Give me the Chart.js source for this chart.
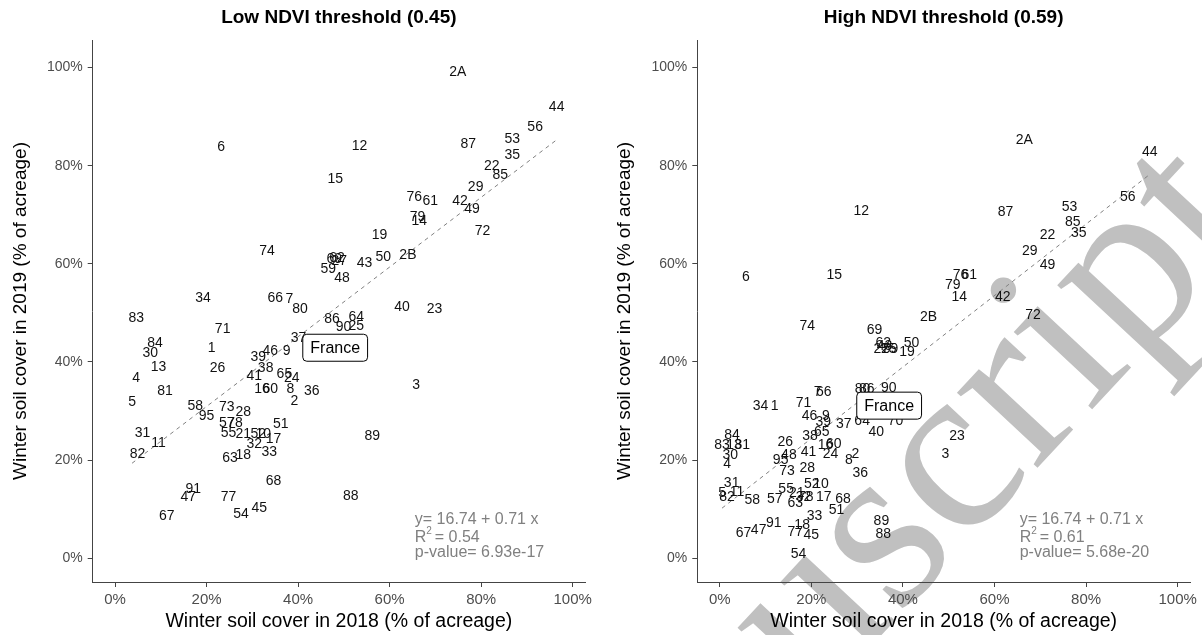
<!DOCTYPE html>
<html>
<head>
<meta charset="utf-8">
<script src="https://cdn.jsdelivr.net/npm/chart.js@4.4.0/dist/chart.umd.min.js"></script>
<style>
body{margin:0;background:#fff;width:1202px;height:635px;overflow:hidden;position:relative}
.panel{position:absolute;top:0;width:601px;height:635px}
#wm{position:absolute;left:369px;top:890px;transform-origin:0 0;transform:rotate(-47deg);
  font-family:"Liberation Serif","DejaVu Serif",serif;font-size:240px;line-height:1;color:#c0c0c0;white-space:nowrap}
</style>
</head>
<body>
<div id="wm">Manuscript</div>
<div class="panel" style="left:0"><canvas id="low" width="601" height="635"></canvas></div>
<div class="panel" style="left:601px"><canvas id="high" width="601" height="635"></canvas></div>
<script>
// departements
var depts = ['1','2','3','4','5','6','7','8','9','10','11','12','13','14','15','16','17','18','19',
  '21','22','23','24','25','26','27','28','29','2A','2B','30','31','32','33','34','35','36','37','38','39',
  '40','41','42','43','44','45','46','47','48','49','50','51','52','53','54','55','56','57','58','59',
  '60','61','62','63','64','65','66','67','68','69','70','71','72','73','74','76','77','78','79','80',
  '81','82','83','84','85','86','87','88','89','90','91','95'];

// low NDVI threshold (0.45), % of acreage
var lowX = [21.1,39.2,65.8,4.6,3.7,23.2,38.1,38.3,37.5,32.4,9.5,53.4,9.5,66.5,48.1,32.1,34.6,28.0,57.8,
  28.0,82.3,69.8,38.6,52.7,22.4,49.0,28.0,78.8,74.9,64.0,7.7,6.0,30.4,33.7,19.2,86.8,43.0,40.1,32.9,31.3,
  62.7,30.4,75.4,54.5,96.5,31.5,33.9,16.0,49.6,78.0,58.6,36.2,31.3,86.8,27.5,24.8,91.8,24.4,17.5,46.6,
  33.9,68.9,48.5,25.1,52.7,37.0,35.0,11.3,34.6,47.9,52.0,23.5,80.3,24.4,33.2,65.4,24.8,26.2,66.1,40.4,
  10.9,4.9,4.6,8.7,84.2,47.4,77.2,51.5,56.2,49.9,17.1,20.0];
var lowY = [42.8,32.1,35.3,36.7,31.9,83.7,52.7,34.4,42.3,25.3,23.5,84.0,38.9,68.6,77.2,34.5,24.2,21.0,65.8,
  25.3,79.8,50.8,36.8,47.3,38.7,60.5,29.7,75.7,99.1,61.8,41.9,25.5,23.2,21.7,53.0,82.1,34.1,44.8,38.7,40.9,
  51.2,37.2,72.8,60.2,91.9,10.2,42.3,12.5,57.1,71.1,61.4,27.4,25.3,85.3,9.0,25.5,87.9,27.5,30.9,58.9,
  34.5,72.8,61.2,20.4,49.1,37.5,53.0,8.5,15.7,60.9,43.0,46.6,66.7,30.8,62.6,73.6,12.5,27.5,69.5,50.8,
  34.1,21.2,48.9,43.8,78.1,48.7,84.4,12.7,24.8,47.0,14.1,29.0];

// high NDVI threshold (0.59)
var highX = [12.0,29.6,49.3,1.6,0.5,5.7,21.4,28.2,23.2,22.1,3.8,30.9,3.1,52.3,25.0,23.1,22.7,18.0,40.9,
  16.8,71.6,51.8,24.2,36.9,14.3,35.3,19.1,67.7,66.5,45.6,2.3,2.6,18.3,20.7,8.9,78.4,30.7,27.1,19.7,22.6,
  34.2,19.4,61.8,36.0,93.9,20.0,19.6,8.5,15.1,71.6,41.9,25.5,20.1,76.4,17.2,14.5,89.1,12.0,7.1,37.3,
  24.9,54.5,35.7,16.5,31.1,22.3,22.7,5.2,26.9,33.8,38.4,18.3,68.4,14.7,19.1,52.6,16.5,18.8,50.9,31.2,
  4.9,1.6,0.5,2.7,77.1,32.1,62.4,35.7,35.3,36.9,11.8,13.3];
var highY = [30.9,21.2,21.2,19.2,13.2,57.2,33.9,19.9,29.0,15.1,13.4,70.8,23.1,53.2,57.6,23.1,12.5,6.8,42.0,
  13.3,65.8,24.8,21.2,42.6,23.7,42.6,18.3,62.6,85.2,49.1,21.0,15.3,12.5,8.6,31.0,66.3,17.4,27.4,24.8,27.8,
  25.7,21.7,53.3,43.2,82.7,4.7,29.0,5.8,21.0,59.7,43.9,9.8,15.1,71.5,0.9,14.1,73.6,12.0,11.9,42.6,
  23.3,57.6,43.9,11.3,28.0,25.8,33.9,5.2,12.0,46.4,28.0,31.7,49.6,17.8,47.2,57.7,5.4,12.5,55.7,34.5,
  23.1,12.4,23.1,25.0,68.4,34.5,70.6,4.9,7.5,34.6,7.1,19.9];

// fitted lines [intercept, slope] and France average point
var lowFit = [16.74, 0.71];
var highFit = [9.85, 0.728];
var lowFrance = [48.1, 42.9];
var highFrance = [37.0, 31.1];
var lowStats = ['y= 16.74 + 0.71 x', '0.54', '6.93e-17'];
var highStats = ['y= 16.74 + 0.71 x', '0.61', '5.68e-20'];

var tickVals = [0, 20, 40, 60, 80, 100];
var xTitle = 'Winter soil cover in 2018 (% of acreage)';
var yTitle = 'Winter soil cover in 2019 (% of acreage)';

Chart.defaults.font.family = '"Liberation Sans", Arial, sans-serif';

var textPlugin = {
  id: 'texts',
  afterDatasetsDraw: function(chart) {
    var ctx = chart.ctx, o = chart.options.extra;
    var xs = chart.scales.x, ys = chart.scales.y;
    var meta = chart.getDatasetMeta(0);
    ctx.save();
    ctx.font = '14px "Liberation Sans", Arial, sans-serif';
    ctx.fillStyle = '#111';
    ctx.textAlign = 'center';
    ctx.textBaseline = 'middle';
    meta.data.forEach(function(p, i) {
      ctx.fillText(depts[i], p.x, p.y);
    });
    // France box
    var fx = xs.getPixelForValue(o.france[0]), fy = ys.getPixelForValue(o.france[1]);
    ctx.font = '16px "Liberation Sans", Arial, sans-serif';
    var w = ctx.measureText('France').width + 15, h = 27;
    ctx.beginPath();
    ctx.roundRect(fx - w / 2, fy - h / 2, w, h, 4);
    ctx.fillStyle = '#fff';
    ctx.fill();
    ctx.strokeStyle = '#000';
    ctx.lineWidth = 1;
    ctx.stroke();
    ctx.fillStyle = '#000';
    ctx.fillText('France', fx, fy + 1);
    ctx.restore();
  },
  afterDraw: function(chart) {
    var ctx = chart.ctx, o = chart.options.extra, a = chart.chartArea;
    var xs = chart.scales.x, ys = chart.scales.y;
    ctx.save();
    ctx.fillStyle = '#000';
    ctx.font = 'bold 19px "Liberation Sans", Arial, sans-serif';
    ctx.textAlign = 'center';
    ctx.textBaseline = 'middle';
    ctx.fillText(o.title, (a.left + a.right) / 2, 18);
    // regression stats
    var sx = xs.getPixelForValue(65.5);
    ctx.font = '16px "Liberation Sans", Arial, sans-serif';
    ctx.fillStyle = '#808080';
    ctx.textAlign = 'left';
    ctx.fillText(o.stats[0], sx, ys.getPixelForValue(7.9));
    var y2 = ys.getPixelForValue(4.2);
    ctx.fillText('R', sx, y2);
    var rw = ctx.measureText('R').width;
    ctx.font = '10px "Liberation Sans", Arial, sans-serif';
    ctx.fillText('2', sx + rw, y2 - 6);
    ctx.font = '16px "Liberation Sans", Arial, sans-serif';
    ctx.fillText(' = ' + o.stats[1], sx + rw + 4, y2);
    ctx.fillText('p-value= ' + o.stats[2], sx, ys.getPixelForValue(1.1));
    ctx.restore();
  }
};

function makePanel(id, title, xs, ys, fit, france, stats, yWidth, yTitlePad, padRight) {
  var pts = xs.map(function(x, i) { return {x: x, y: ys[i]}; });
  var x0 = Math.min.apply(null, xs), x1 = Math.max.apply(null, xs);
  var line = [{x: x0, y: fit[0] + fit[1] * x0}, {x: x1, y: fit[0] + fit[1] * x1}];
  var axisCol = '#444';
  new Chart(document.getElementById(id), {
    type: 'scatter',
    data: {
      datasets: [
        {data: pts, pointRadius: 0, pointHoverRadius: 0},
        {type: 'line', data: line, borderColor: '#808080', borderWidth: 1, borderDash: [4, 4],
         pointRadius: 0, fill: false}
      ]
    },
    options: {
      responsive: false,
      animation: false,
      events: [],
      extra: {title: title, france: france, stats: stats},
      layout: {padding: {top: 40, right: padRight, left: 0, bottom: 0}},
      plugins: {legend: {display: false}, tooltip: {enabled: false}},
      scales: {
        x: {
          type: 'linear', min: -4.9, max: 102.7,
          afterBuildTicks: function(s) { s.ticks = tickVals.map(function(v) { return {value: v}; }); },
          afterFit: function(s) { s.height = 53; s.paddingLeft = 0; s.paddingRight = 0; },
          ticks: {callback: function(v) { return v + '%'; }, color: '#4d4d4d', font: {size: 15},
                  padding: 4, maxRotation: 0, autoSkip: false},
          grid: {drawOnChartArea: false, tickLength: 5, color: axisCol},
          border: {color: axisCol},
          title: {display: true, text: xTitle, color: '#000', font: {size: 19.5}, padding: {top: 0, bottom: 2}}
        },
        y: {
          type: 'linear', min: -4.83, max: 105.6,
          afterBuildTicks: function(s) { s.ticks = tickVals.map(function(v) { return {value: v}; }); },
          afterFit: function(s) { s.width = yWidth; s.paddingTop = 0; s.paddingBottom = 0; },
          ticks: {callback: function(v) { return v + '%'; }, color: '#4d4d4d', font: {size: 14},
                  padding: 5, autoSkip: false},
          grid: {drawOnChartArea: false, tickLength: 5, color: axisCol},
          border: {color: axisCol},
          title: {display: true, text: yTitle, color: '#000', font: {size: 19}, padding: {top: yTitlePad, bottom: 0}}
        }
      }
    },
    plugins: [textPlugin]
  });
}

makePanel('low', 'Low NDVI threshold (0.45)', lowX, lowY, lowFit, lowFrance, lowStats, 92.7, 9, 16);
makePanel('high', 'High NDVI threshold (0.59)', highX, highY, highFit, highFrance, highStats, 96.3, 12, 12);
</script>
</body>
</html>
